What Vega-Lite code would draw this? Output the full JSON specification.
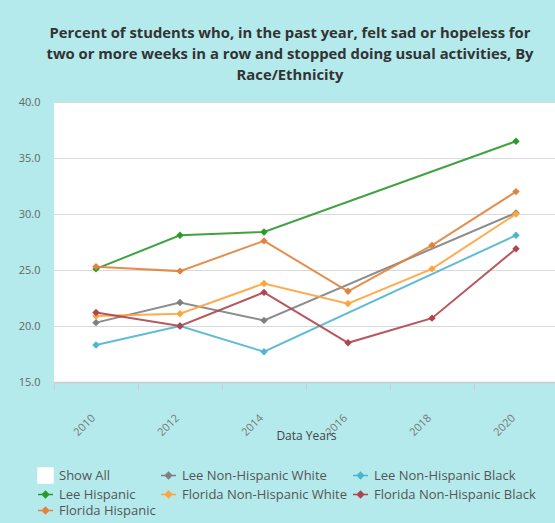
{
  "$schema": "https://vega.github.io/schema/vega-lite/v6.json",
  "autosize": "none",
  "padding": {"left": 54, "top": 102, "right": 0, "bottom": 141},
  "width": 504,
  "height": 280,
  "background": "#b4eaec",
  "title": {
    "text": ["Percent of students who, in the past year, felt sad or hopeless for", "two or more weeks in a row and stopped doing usual activities, By", "Race/Ethnicity"],
    "anchor": "middle",
    "dx": -16,
    "offset": 13,
    "font": "Open Sans",
    "fontSize": 14.8,
    "fontWeight": "bold",
    "color": "#333333",
    "lineHeight": 21
  },
  "config": {
    "view": {"fill": "white", "stroke": null},
    "font": "Open Sans",
    "legend": {
      "orient": "none",
      "legendX": -17,
      "legendY": 365,
      "direction": "horizontal",
      "columns": 3,
      "gridAlign": "none",
      "columnPadding": 2,
      "rowPadding": 0,
      "labelFont": "Open Sans",
      "labelFontSize": 13,
      "labelColor": "#555555",
      "labelOffset": 5,
      "labelLimit": 300,
      "symbolSize": 225,
      "symbolStrokeWidth": 1.5,
      "symbolOpacity": 1
    }
  },
  "data": {
    "values": [
      {"year": "2010", "group": "Lee Non-Hispanic White", "value": 20.3},
      {"year": "2012", "group": "Lee Non-Hispanic White", "value": 22.1},
      {"year": "2014", "group": "Lee Non-Hispanic White", "value": 20.5},
      {"year": "2020", "group": "Lee Non-Hispanic White", "value": 30.1},
      {"year": "2010", "group": "Lee Non-Hispanic Black", "value": 18.3},
      {"year": "2012", "group": "Lee Non-Hispanic Black", "value": 20.0},
      {"year": "2014", "group": "Lee Non-Hispanic Black", "value": 17.7},
      {"year": "2020", "group": "Lee Non-Hispanic Black", "value": 28.1},
      {"year": "2010", "group": "Lee Hispanic", "value": 25.1},
      {"year": "2012", "group": "Lee Hispanic", "value": 28.1},
      {"year": "2014", "group": "Lee Hispanic", "value": 28.4},
      {"year": "2020", "group": "Lee Hispanic", "value": 36.5},
      {"year": "2010", "group": "Florida Non-Hispanic White", "value": 20.9},
      {"year": "2012", "group": "Florida Non-Hispanic White", "value": 21.1},
      {"year": "2014", "group": "Florida Non-Hispanic White", "value": 23.8},
      {"year": "2016", "group": "Florida Non-Hispanic White", "value": 22.0},
      {"year": "2018", "group": "Florida Non-Hispanic White", "value": 25.1},
      {"year": "2020", "group": "Florida Non-Hispanic White", "value": 30.0},
      {"year": "2010", "group": "Florida Non-Hispanic Black", "value": 21.2},
      {"year": "2012", "group": "Florida Non-Hispanic Black", "value": 20.0},
      {"year": "2014", "group": "Florida Non-Hispanic Black", "value": 23.0},
      {"year": "2016", "group": "Florida Non-Hispanic Black", "value": 18.5},
      {"year": "2018", "group": "Florida Non-Hispanic Black", "value": 20.7},
      {"year": "2020", "group": "Florida Non-Hispanic Black", "value": 26.9},
      {"year": "2010", "group": "Florida Hispanic", "value": 25.3},
      {"year": "2012", "group": "Florida Hispanic", "value": 24.9},
      {"year": "2014", "group": "Florida Hispanic", "value": 27.6},
      {"year": "2016", "group": "Florida Hispanic", "value": 23.1},
      {"year": "2018", "group": "Florida Hispanic", "value": 27.2},
      {"year": "2020", "group": "Florida Hispanic", "value": 32.0}
    ]
  },
  "encoding": {
    "x": {
      "field": "year",
      "type": "ordinal",
      "bandPosition": 0.5,
      "scale": {"type": "band", "domain": ["2010", "2012", "2014", "2016", "2018", "2020"], "paddingInner": 0, "paddingOuter": 0},
      "axis": {
        "title": "Data Years",
        "titleFont": "Open Sans",
        "titleFontSize": 12,
        "titleFontWeight": "normal",
        "titleColor": "#444444",
        "titlePadding": -7,
        "labelAngle": -45,
        "labelFontSize": 11,
        "labelColor": "#777777",
        "labelPadding": 22,
        "labelOffset": -7,
        "labelAlign": "right",
        "labelBaseline": "top",
        "tickBand": "extent",
        "tickColor": "#cccccc",
        "tickSize": 8,
        "domainColor": "#cccccc",
        "domainWidth": 1.5,
        "grid": false,
        "encode": {
          "labels": {
            "dx": {"value": -7},
            "dy": {"value": -9}
          }
        }
      }
    },
    "y": {
      "field": "value",
      "type": "quantitative",
      "scale": {"domain": [15, 40], "nice": false, "zero": false},
      "axis": {
        "title": null,
        "values": [15, 20, 25, 30, 35, 40],
        "format": ".1f",
        "labelFontSize": 11,
        "labelColor": "#666666",
        "labelPadding": 14,
        "ticks": false,
        "domain": false,
        "gridColor": "#d9d9d9",
        "gridWidth": 1.2
      }
    },
    "color": {
      "field": "group",
      "type": "nominal",
      "scale": {
        "domain": ["Show All", "Lee Non-Hispanic White", "Lee Non-Hispanic Black", "Lee Hispanic", "Florida Non-Hispanic White", "Florida Non-Hispanic Black", "Florida Hispanic"],
        "range": ["#ffffff", "#7f7f7f", "#4fb5cf", "#2a9a2a", "#ffa33c", "#b0454e", "#e0833c"]
      },
      "legend": {"title": null}
    }
  },
  "layer": [
    {"mark": {"type": "line", "strokeWidth": 2, "opacity": 0.9}},
    {"mark": {"type": "point", "shape": "diamond", "filled": true, "size": 55, "opacity": 1}},
    {
      "transform": [{"filter": "false"}],
      "mark": {"type": "point", "filled": true},
      "encoding": {
        "shape": {
          "field": "group",
          "type": "nominal",
          "scale": {
            "domain": ["Show All", "Lee Non-Hispanic White", "Lee Non-Hispanic Black", "Lee Hispanic", "Florida Non-Hispanic White", "Florida Non-Hispanic Black", "Florida Hispanic"],
            "range": ["square", "M-1,0H1M0,-0.42L0.42,0L0,0.42L-0.42,0Z", "M-1,0H1M0,-0.42L0.42,0L0,0.42L-0.42,0Z", "M-1,0H1M0,-0.42L0.42,0L0,0.42L-0.42,0Z", "M-1,0H1M0,-0.42L0.42,0L0,0.42L-0.42,0Z", "M-1,0H1M0,-0.42L0.42,0L0,0.42L-0.42,0Z", "M-1,0H1M0,-0.42L0.42,0L0,0.42L-0.42,0Z"]
          },
          "legend": {"title": null}
        }
      }
    }
  ]
}
